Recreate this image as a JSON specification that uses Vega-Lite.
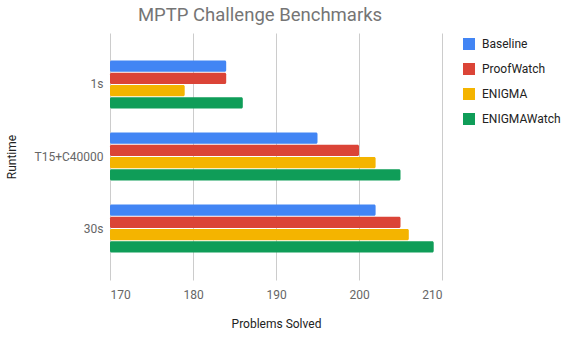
{
  "$schema": "https://vega.github.io/schema/vega-lite/v6.json",
  "width": 332,
  "height": 247,
  "autosize": "none",
  "padding": {"left": 110, "top": 33, "right": 124, "bottom": 58},
  "background": "white",
  "title": {
    "text": "MPTP Challenge Benchmarks",
    "font": "Roboto",
    "fontSize": 18.5,
    "fontWeight": "normal",
    "color": "#757575",
    "anchor": "middle",
    "frame": "group",
    "dx": -16,
    "offset": 9
  },
  "config": {
    "view": {"stroke": null},
    "font": "Roboto"
  },
  "data": {
    "values": [
      {"runtime": "1s", "series": "Baseline", "solved": 184},
      {"runtime": "1s", "series": "ProofWatch", "solved": 184},
      {"runtime": "1s", "series": "ENIGMA", "solved": 179},
      {"runtime": "1s", "series": "ENIGMAWatch", "solved": 186},
      {"runtime": "T15+C40000", "series": "Baseline", "solved": 195},
      {"runtime": "T15+C40000", "series": "ProofWatch", "solved": 200},
      {"runtime": "T15+C40000", "series": "ENIGMA", "solved": 202},
      {"runtime": "T15+C40000", "series": "ENIGMAWatch", "solved": 205},
      {"runtime": "30s", "series": "Baseline", "solved": 202},
      {"runtime": "30s", "series": "ProofWatch", "solved": 205},
      {"runtime": "30s", "series": "ENIGMA", "solved": 206},
      {"runtime": "30s", "series": "ENIGMAWatch", "solved": 209}
    ]
  },
  "mark": {"type": "bar", "cornerRadius": 1.5},
  "encoding": {
    "y": {
      "field": "runtime",
      "type": "nominal",
      "sort": ["1s", "T15+C40000", "30s"],
      "scale": {"paddingInner": 0.333, "paddingOuter": 0.38},
      "axis": {
        "title": "Runtime",
        "titleFont": "Roboto",
        "titleFontSize": 12,
        "titleFontWeight": "normal",
        "titleColor": "#222222",
        "titlePadding": 16,
        "labelFont": "Roboto",
        "labelFontSize": 12,
        "labelColor": "#666666",
        "labelPadding": 7,
        "ticks": false,
        "domain": false
      }
    },
    "yOffset": {
      "field": "series",
      "type": "nominal",
      "sort": ["Baseline", "ProofWatch", "ENIGMA", "ENIGMAWatch"],
      "scale": {"paddingInner": 0.08, "paddingOuter": 0}
    },
    "x": {
      "field": "solved",
      "type": "quantitative",
      "scale": {"domain": [170, 210], "zero": false},
      "axis": {
        "title": "Problems Solved",
        "titleFont": "Roboto",
        "titleFontSize": 12,
        "titleFontWeight": "normal",
        "titleColor": "#222222",
        "titlePadding": 18,
        "values": [170, 180, 190, 200, 210],
        "labelFont": "Roboto",
        "labelFontSize": 12,
        "labelColor": "#666666",
        "labelPadding": 9,
        "ticks": false,
        "domain": false,
        "grid": true,
        "gridColor": "#cccccc",
        "gridWidth": 1
      }
    },
    "x2": {"datum": 170},
    "color": {
      "field": "series",
      "type": "nominal",
      "sort": ["Baseline", "ProofWatch", "ENIGMA", "ENIGMAWatch"],
      "scale": {
        "domain": ["Baseline", "ProofWatch", "ENIGMA", "ENIGMAWatch"],
        "range": ["#4285F4", "#DB4437", "#F4B400", "#0F9D58"]
      },
      "legend": {
        "title": null,
        "orient": "none",
        "legendX": 353,
        "legendY": 5,
        "symbolType": "square",
        "symbolSize": 144,
        "symbolStrokeWidth": 0,
        "labelFont": "Roboto",
        "labelFontSize": 12,
        "labelColor": "#222222",
        "labelOffset": 7,
        "rowPadding": 13
      }
    }
  }
}
